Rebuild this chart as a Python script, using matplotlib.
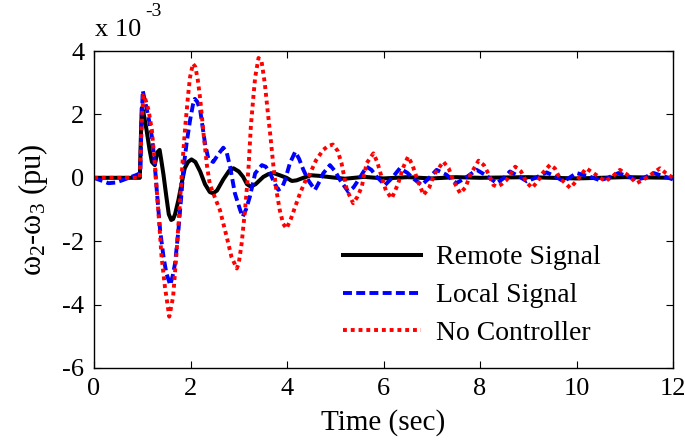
import matplotlib
matplotlib.use("Agg")
import matplotlib.pyplot as plt

# values, y in units of 1e-3 pu
t_remote = [0, 0.95, 0.97, 0.99, 1.02, 1.09, 1.15, 1.2, 1.26, 1.31, 1.36, 1.40, 1.44, 1.5, 1.55,
            1.6, 1.64, 1.68, 1.75, 1.82, 1.88, 1.95, 2.02, 2.1, 2.2, 2.3, 2.4, 2.47, 2.55, 2.68,
            2.8, 2.89, 3.0, 3.09, 3.17, 3.25, 3.35, 3.51, 3.62, 3.72, 3.85, 3.99, 4.1, 4.2, 4.34,
            4.5, 4.68, 4.9, 5.2, 5.6, 6.0, 6.5, 7.0, 7.5, 8.0, 9.0, 10.0, 11.0, 12.0]
y_remote = [0, 0, 1.2, 2.2, 2.1, 1.5, 0.9, 0.5, 0.4, 0.8, 0.88, 0.5, 0.1, -0.6, -1.15,
            -1.33, -1.3, -1.15, -0.7, -0.15, 0.3, 0.5, 0.58, 0.5, 0.2, -0.2, -0.45, -0.49, -0.4, -0.05,
            0.22, 0.3, 0.2, 0.03, -0.2, -0.28, -0.2, 0.03, 0.12, 0.15, 0.08, 0.0, -0.1, -0.08, 0.0,
            0.08, 0.06, 0.02, -0.03, 0.03, -0.02, 0.02, -0.02, 0.02, 0.0, 0.02, -0.02, 0.02, 0.0]

t_local = [0, 0.12, 0.3, 0.45, 0.6, 0.88, 0.96, 0.98, 1.01, 1.06, 1.13, 1.2, 1.25, 1.3, 1.37,
           1.44, 1.5, 1.58, 1.63, 1.68, 1.75, 1.82, 1.85, 1.92, 1.99, 2.05, 2.09, 2.14, 2.2, 2.3,
           2.37, 2.47, 2.58, 2.68, 2.75, 2.82, 2.92, 3.03, 3.08, 3.15, 3.23, 3.34, 3.48, 3.56, 3.65,
           3.75, 3.82, 3.9, 3.96, 4.06, 4.17, 4.25, 4.34, 4.45, 4.58, 4.68, 4.75, 4.89, 5.0, 5.1,
           5.27, 5.38, 5.48, 5.65, 5.75, 5.85, 6.03, 6.18, 6.34, 6.5, 6.6, 6.79, 6.95, 7.1, 7.3,
           7.51, 7.7, 7.93, 8.1, 8.35, 8.5, 8.62, 8.8, 8.97, 9.15, 9.38, 9.55, 9.73, 9.85, 10.0,
           10.25, 10.49, 10.65, 10.87, 11.05, 11.25, 11.4, 11.6, 11.8, 12.0]
y_local = [0, -0.07, -0.17, -0.15, -0.07, 0.09, 0.15, 1.5, 2.75, 2.4, 1.9, 1.3, 0.6, -0.38, -1.65,
           -2.49, -3.01, -3.38, -3.1, -2.7, -1.65, -0.38, 0.25, 1.1, 1.81, 2.3, 2.49, 2.4, 2.14, 1.09,
           0.6, 0.5, 0.75, 0.95, 0.8, 0.35, -0.49, -1.02, -1.23, -1.0, -0.6, 0.14, 0.4, 0.35, 0.14,
           -0.2, -0.38, -0.3, -0.07, 0.46, 0.82, 0.6, 0.25, -0.1, -0.38, -0.1, 0.14, 0.4, 0.2, -0.07,
           -0.44, -0.3, -0.07, 0.35, 0.25, 0.05, -0.23, 0.0, 0.3, 0.15, 0.0, -0.23, 0.0, 0.25, 0.1,
           -0.17, 0.0, 0.25, 0.1, -0.17, 0.0, 0.2, 0.05, -0.11, 0.0, 0.17, 0.05, -0.11, 0.0, 0.15,
           0.05, -0.08, 0.0, 0.15, 0.05, -0.06, 0.0, 0.15, 0.05, -0.05]

t_none = [0, 0.95, 0.98, 1.02, 1.06, 1.13, 1.2, 1.26, 1.3, 1.35, 1.40, 1.47, 1.56, 1.64, 1.71,
          1.78, 1.84, 1.89, 1.95, 1.99, 2.05, 2.1, 2.15, 2.2, 2.27, 2.34, 2.4, 2.5, 2.61, 2.75,
          2.85, 2.96, 3.0, 3.06, 3.13, 3.2, 3.25, 3.3, 3.34, 3.41, 3.47, 3.54, 3.6, 3.65, 3.72,
          3.78, 3.85, 3.92, 3.99, 4.08, 4.17, 4.27, 4.38, 4.48, 4.6, 4.75, 4.85, 4.95, 5.05, 5.13,
          5.24, 5.37, 5.46, 5.55, 5.65, 5.79, 5.87, 5.96, 6.05, 6.17, 6.3, 6.4, 6.51, 6.6, 6.7,
          6.83, 6.95, 7.05, 7.24, 7.35, 7.45, 7.59, 7.7, 7.8, 7.97, 8.08, 8.17, 8.28, 8.35, 8.45,
          8.55, 8.73, 8.85, 8.97, 9.08, 9.2, 9.3, 9.45, 9.55, 9.65, 9.87, 10.0, 10.2, 10.35, 10.6,
          10.75, 10.9, 11.05, 11.25, 11.45, 11.73, 11.85, 12.0]
y_none = [0, 0.0, 1.4, 2.6, 2.5, 2.14, 1.5, 0.46, -0.38, -1.4, -2.49, -3.44, -4.38, -3.75, -2.38,
          -0.8, 0.6, 1.6, 2.6, 3.17, 3.6, 3.5, 3.1, 2.5, 1.4, 0.4, -0.2, -0.6, -1.02, -1.86,
          -2.5, -2.86, -2.7, -2.07, -1.02, 0.25, 1.6, 2.5, 3.17, 3.78, 3.7, 2.98, 2.1, 1.4, 0.35,
          -0.4, -1.02, -1.45, -1.6, -1.3, -0.91, -0.49, -0.1, 0.14, 0.55, 0.88, 1.0, 1.05, 0.85, 0.46,
          -0.38, -0.8, -0.6, -0.28, 0.46, 0.77, 0.5, 0.03, -0.4, -0.65, -0.2, 0.3, 0.67, 0.4, -0.05,
          -0.54, -0.3, 0.1, 0.51, 0.3, -0.1, -0.49, -0.3, 0.1, 0.54, 0.4, 0.14, -0.23, -0.28, -0.2,
          -0.07, 0.35, 0.2, -0.15, -0.32, -0.1, 0.15, 0.41, 0.3, 0.0, -0.32, -0.1, 0.3, 0.15, -0.11,
          0.05, 0.25, 0.1, -0.17, 0.0, 0.3, 0.15, 0.0]

x_ticks = [0, 2, 4, 6, 8, 10, 12]
y_ticks = [-6, -4, -2, 0, 2, 4]

plt.rcParams['font.family'] = ['Liberation Serif', 'DejaVu Serif']
plt.rcParams['mathtext.fontset'] = 'custom'
plt.rcParams['mathtext.rm'] = 'Liberation Serif'
plt.rcParams['mathtext.it'] = 'Liberation Serif:italic'
plt.rcParams['axes.unicode_minus'] = False

fig = plt.figure(figsize=(6.85, 4.44), dpi=100)
ax = fig.add_axes([94 / 685, 1 - 368 / 444, (673 - 94) / 685, (368 - 51) / 444])

ax.plot(t_remote, y_remote, color='black', lw=2.9, label='Remote Signal')
ax.plot(t_local, y_local, color='#0000ff', lw=2.8, ls=(0, (2.3, 1.1)), label='Local Signal')
ax.plot(t_none, y_none, color='#ff0000', lw=2.8, ls=(0, (1.0, 1.0)), label='No Controller')

ax.set_xlim(0, 12)
ax.set_ylim(-6, 4)
ax.set_xticks(x_ticks)
ax.set_yticks(y_ticks)
ax.tick_params(direction='in', top=True, right=True, labelsize=19, length=5, width=0.8, pad=7)
for s in ax.spines.values():
    s.set_linewidth(1.0)

ax.set_xlabel('Time (sec)', fontsize=21, labelpad=7)
ax.set_ylabel(r'$\mathregular{\omega_2}$-$\mathregular{\omega_3}$ (pu)', fontsize=22, labelpad=9)

fig.text(95 / 685, 1 - 30 / 444, 'x 10', fontsize=19, ha='left', va='center')
fig.text(145 / 685, 1 - 11 / 444, '-3', fontsize=14, ha='left', va='center')

ax.legend(loc='upper left', bbox_to_anchor=(329 / 685, 1 - 231 / 444),
          bbox_transform=fig.transFigure, frameon=False, fontsize=20,
          handlelength=2.8, handletextpad=0.55, labelspacing=0.45, borderpad=0)

fig.savefig('out.png', dpi=100)
